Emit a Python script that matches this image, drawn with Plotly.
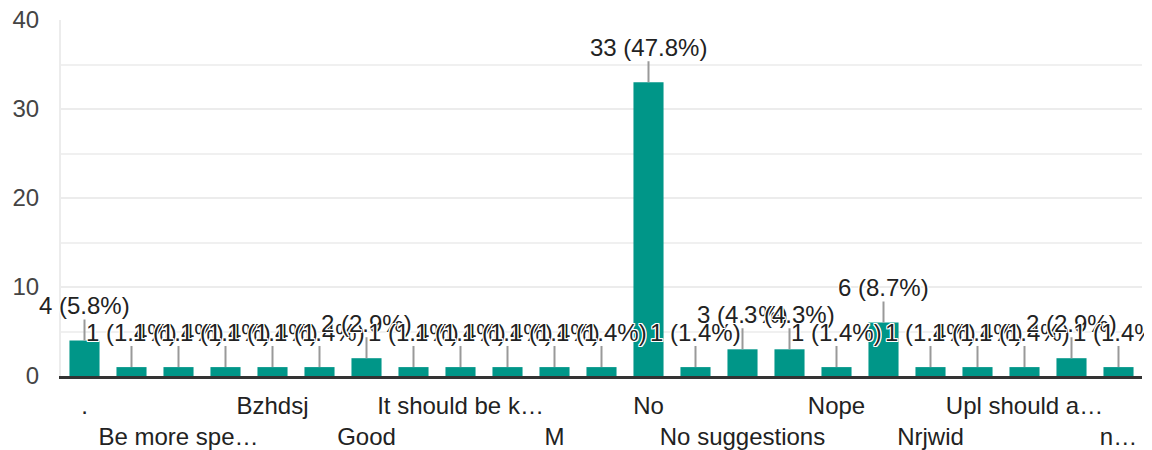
import plotly.graph_objects as go

# answers (alphabetical, as in the form summary) and their counts
categories = [".", "Ab", "Be more spe…", "Bs", "Bzhdsj", "Dj", "Good", "Hi",
              "It should be k…", "Jd", "M", "N", "No", "No comments",
              "No suggestions", "Non", "Nope", "Nothing", "Nrjwid", "Ok",
              "Upl should a…", "Yes", "n…"]
counts = [4, 1, 1, 1, 1, 1, 2, 1, 1, 1, 1, 1, 33, 1, 3, 3, 1, 6, 1, 1, 1, 2, 1]
total = sum(counts)

x = list(range(len(categories)))

fig = go.Figure()
fig.add_trace(go.Bar(x=x, y=counts, marker_color="#009688", marker_line_width=0,
                     hoverinfo="skip"))

# only every other answer gets a tick label, alternating on two rows
tickvals = x[::2]
ticktext = []
for i, idx in enumerate(tickvals):
    lbl = categories[idx]
    ticktext.append(lbl if i % 2 == 0 else "<br>" + lbl)

halo = "1px 1px 0 #fff, -1px -1px 0 #fff, 1px -1px 0 #fff, -1px 1px 0 #fff, 0 1px 0 #fff, 0 -1px 0 #fff, 1px 0 0 #fff, -1px 0 0 #fff"
annotations = []
for xi, c in zip(x, counts):
    pct = round(100 * c / total, 1)
    annotations.append(dict(
        x=xi, y=c, xref="x", yref="y",
        text=f"{c} ({pct}%)",
        showarrow=True, arrowhead=0, arrowwidth=2, arrowcolor="#999999",
        ax=0, ay=-35, standoff=0, borderpad=0,
        font=dict(family="Liberation Sans, Arial", size=24, color="#222222", shadow=halo),
    ))

# page body adds 8px around the plot, so the figure is a bit smaller than the window
fig.update_layout(
    width=1144, height=442,
    margin=dict(l=53, r=10, t=12, b=74),
    plot_bgcolor="white", paper_bgcolor="white",
    showlegend=False,
    bargap=0.36,
    font=dict(family="Liberation Sans, Arial", size=24, color="#333333"),
    annotations=annotations,
)
fig.update_xaxes(
    range=[-0.5, len(categories) - 0.5],
    tickmode="array", tickvals=tickvals, ticktext=ticktext,
    tickangle=0, automargin=False,
    showgrid=False, ticks="",
    showline=True, linecolor="#333333", linewidth=3,
    tickfont=dict(size=24, color="#222222"),
    ticklabelstandoff=6, ticklabeloverflow="allow",
)
fig.update_yaxes(
    range=[0, 40], dtick=10, automargin=False,
    showgrid=True, gridcolor="#ececec", gridwidth=2,
    minor=dict(dtick=5, showgrid=True, gridcolor="#f0f0f0", gridwidth=2),
    zeroline=False,
    showline=True, linecolor="#ececec", linewidth=2,
    tickfont=dict(size=24, color="#444444"),
    ticklabelstandoff=15, ticklabeloverflow="allow",
)

fig.write_html("out.html")
